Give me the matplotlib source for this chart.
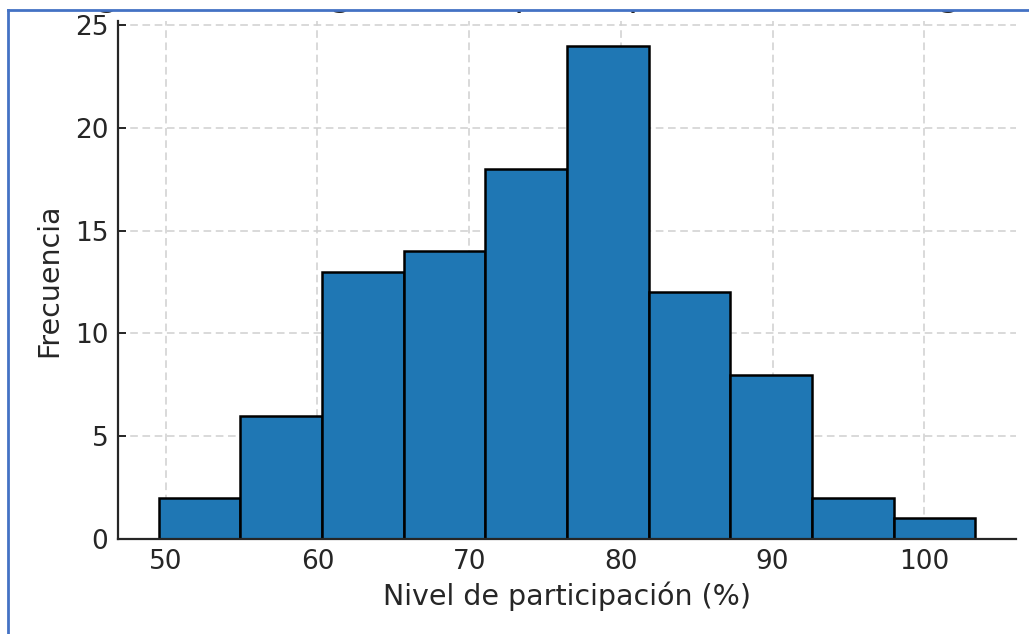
import numpy as np
import matplotlib.pyplot as plt
from matplotlib.patches import Rectangle

# Histogram data
bin_lo, bin_hi = 49.54, 103.36
counts = [2, 6, 13, 14, 18, 24, 12, 8, 2, 1]
bin_edges = np.linspace(bin_lo, bin_hi, len(counts) + 1)
xticks = [50, 60, 70, 80, 90, 100]
yticks = [0, 5, 10, 15, 20, 25]

text_col = '#262626'
W, H = 1029, 634

fig = plt.figure(figsize=(W / 100, H / 100), dpi=100)
ax = fig.add_axes([118 / W, 1 - 539 / H, 898 / W, 518 / H])

ax.hist(bin_edges[:-1], bins=bin_edges, weights=counts,
        color='#1f77b4', edgecolor='black', linewidth=1.8, zorder=2)

ax.set_xticks(xticks)
ax.set_yticks(yticks)
ax.grid(True, linestyle=(0, (5, 3)), color='#d0d0d0', linewidth=1.1, zorder=0)
ax.set_axisbelow(True)
for s in ['top', 'right']:
    ax.spines[s].set_visible(False)
for s in ['left', 'bottom']:
    ax.spines[s].set_color(text_col)
    ax.spines[s].set_linewidth(1.6)
ax.tick_params(direction='in', length=6, width=1.4, labelsize=19,
               labelcolor=text_col, color=text_col, pad=7)
ax.set_xlabel('Nivel de participación (%)', fontsize=20.5, color=text_col, labelpad=5)
ax.set_ylabel('Frecuencia', fontsize=20.5, color=text_col, labelpad=8)

# title mostly cut off by the screenshot crop
fig.text(549 / W, 1 - 6 / H,
         'Figura 1: Histograma de participación en la categoría',
         ha='center', va='baseline', fontsize=26, color=text_col)

# white strip above the screenshot frame, then the blue frame (left and top)
fig.add_artist(Rectangle((0, 1 - 9.5 / H), 1, 9.5 / H, transform=fig.transFigure,
                         facecolor='white', edgecolor='none', zorder=10))
fig.add_artist(plt.Line2D([8 / W, 8 / W], [0, 1 - 10 / H], transform=fig.transFigure,
                          color='#4472c4', linewidth=2, zorder=11))
fig.add_artist(plt.Line2D([8 / W, 1], [1 - 10 / H, 1 - 10 / H], transform=fig.transFigure,
                          color='#4472c4', linewidth=2, zorder=11))

fig.savefig('out.png', dpi=100)
